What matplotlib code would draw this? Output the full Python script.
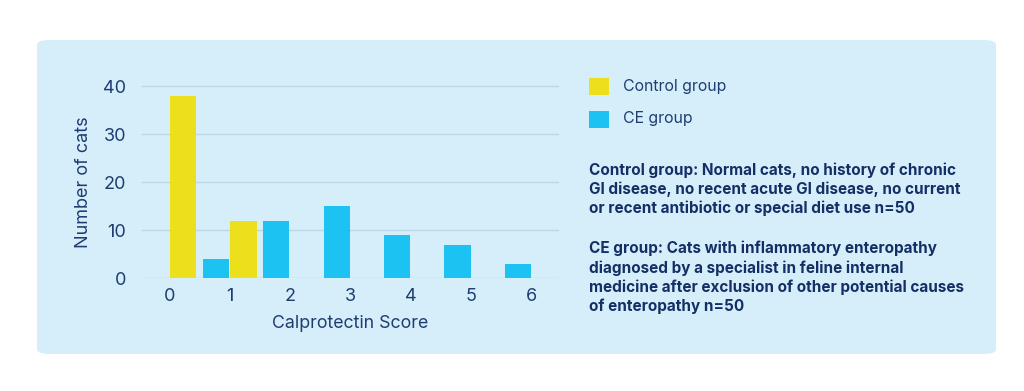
import numpy as np
import matplotlib.pyplot as plt
from matplotlib.patches import FancyBboxPatch, Rectangle

plt.rcParams['font.family'] = ['Inter', 'DejaVu Sans']

# Data
scores = [0, 1, 2, 3, 4, 5, 6]
control_counts = [38, 12, 0, 0, 0, 0, 0]
ce_counts = [0, 4, 12, 15, 9, 7, 3]
legend_labels = ['Control group', 'CE group']
control_note = ('Control group: Normal cats, no history of chronic\n'
                'GI disease, no recent acute GI disease, no current\n'
                'or recent antibiotic or special diet use n=50')
ce_note = ('CE group: Cats with inflammatory enteropathy\n'
           'diagnosed by a specialist in feline internal\n'
           'medicine after exclusion of other potential causes\n'
           'of enteropathy n=50')

W, H = 1024, 391
panel_color = '#d6eefa'
yellow = '#ece01c'
blue = '#1bc2f2'
navy = '#1f3d73'
dark = '#142f66'
grid_color = '#bcd7e8'

fig = plt.figure(figsize=(W / 100, H / 100), dpi=100, facecolor='white')

# rounded background panel, kept behind the axes
panel = FancyBboxPatch((37 / W, 1 - 354 / H), (996 - 37) / W, (354 - 40) / H,
                       boxstyle='round,pad=0,rounding_size=0.012',
                       transform=fig.transFigure, facecolor=panel_color,
                       edgecolor='none', zorder=-5)
fig.patches.append(panel)

ax = fig.add_axes([141.7 / W, 1 - 278.3 / H, 417.3 / W, 41 * 4.8 / H])
ax.set_facecolor('none')
ax.set_zorder(2)

x = np.array(scores)
w = 0.435
gap = 0.0125
ax.bar(x - gap - w / 2, ce_counts, width=w, color=blue, zorder=3)
ax.bar(x + gap + w / 2, control_counts, width=w, color=yellow, zorder=3)

ax.set_xlim(-0.457, 6.45)
ax.set_ylim(0, 41)
ax.set_yticks([0, 10, 20, 30, 40])
ax.set_xticks(scores)
ax.grid(axis='y', color=grid_color, linewidth=1, zorder=0)
ax.grid(axis='x', visible=False)
ax.set_axisbelow(True)
for s in ax.spines.values():
    s.set_visible(False)
ax.tick_params(axis='both', length=0, labelsize=13, labelcolor=navy)
ax.tick_params(axis='y', pad=11)
ax.tick_params(axis='x', pad=7)

fig.text(83 / W, 1 - 182 / H, 'Number of cats', rotation=90, ha='center',
         va='center', fontsize=13, color=navy)
fig.text(350 / W, 1 - 324 / H, 'Calprotectin Score', ha='center', va='center',
         fontsize=12.8, color=navy)

# legend
for i, (lab, col) in enumerate(zip(legend_labels, [yellow, blue])):
    yc = [86, 119][i]
    fig.patches.append(Rectangle((589 / W, 1 - (yc + 8.5) / H), 20 / W, 17 / H,
                                 transform=fig.transFigure, facecolor=col,
                                 edgecolor='none', zorder=1))
    fig.text(623 / W, 1 - yc / H, lab, ha='left', va='center',
             fontsize=11.4, color=navy)

fig.text(589 / W, 1 - 162 / H, control_note, ha='left', va='top',
         fontsize=11, fontweight='bold', color=dark, linespacing=1.3)
fig.text(589 / W, 1 - 241 / H, ce_note, ha='left', va='top',
         fontsize=11, fontweight='bold', color=dark, linespacing=1.3)

fig.savefig('out.png', dpi=100, facecolor='white')
